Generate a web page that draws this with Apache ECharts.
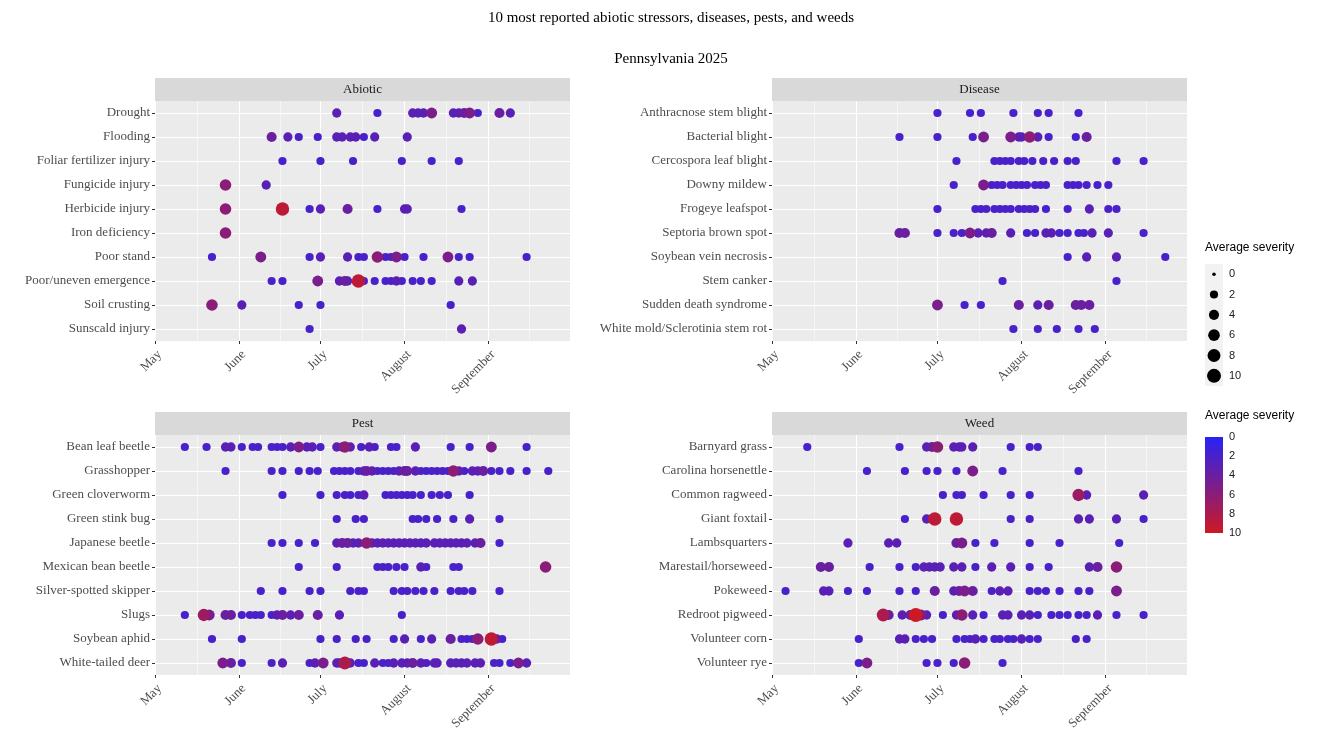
<!DOCTYPE html>
<html lang="en">
<head>
<meta charset="UTF-8">
<script src="https://cdn.jsdelivr.net/npm/echarts@6/dist/echarts.min.js"></script>
<style>
  html, body { margin: 0; padding: 0; background: #ffffff; }
  #main { width: 1317px; height: 735px; }
</style>
</head>
<body>
<div id="main"></div>
<script>
// x tick labels (month starts) and days are counted from May 1, 2025
const monthLabels = ['May', 'June', 'July', 'August', 'September'];
const sizeLegendValues = [0, 2, 4, 6, 8, 10];
const severityRange = [0, 10];

const abioticCats = ['Drought', 'Flooding', 'Foliar fertilizer injury', 'Fungicide injury', 'Herbicide injury',
  'Iron deficiency', 'Poor stand', 'Poor/uneven emergence', 'Soil crusting', 'Sunscald injury'];
const abioticDays = [
  [67, 82, 95, 97, 99, 102, 110, 112, 114, 116, 119, 127, 131],
  [43, 49, 53, 60, 67, 69, 72, 74, 77, 81, 93],
  [47, 61, 73, 91, 102, 112],
  [26, 41],
  [26, 47, 57, 61, 71, 82, 92, 93, 113],
  [26],
  [21, 39, 57, 61, 71, 75, 77, 82, 85, 87, 89, 92, 99, 108, 112, 116, 137],
  [43, 47, 60, 68, 70, 71, 75, 77, 81, 85, 87, 89, 91, 95, 98, 102, 112, 117],
  [21, 32, 53, 61, 109],
  [57, 113]
];
const abioticSeverity = [
  [3, 2, 3, 3, 3, 5, 3, 3, 4, 5, 2, 4, 3],
  [4, 3, 2, 2, 3, 3, 3, 3, 2, 3, 3],
  [2, 2, 2, 2, 2, 2],
  [6, 3],
  [6, 9, 2, 3, 4, 2, 3, 3, 2],
  [6],
  [2, 5, 2, 3, 3, 2, 2, 6, 2, 2, 5, 2, 2, 5, 2, 2, 2],
  [2, 2, 5, 3, 4, 3, 9, 2, 2, 2, 2, 3, 2, 2, 2, 2, 3, 3],
  [6, 3, 2, 2, 2],
  [2, 3]
];

const diseaseCats = ['Anthracnose stem blight', 'Bacterial blight', 'Cercospora leaf blight', 'Downy mildew',
  'Frogeye leafspot', 'Septoria brown spot', 'Soybean vein necrosis', 'Stem canker', 'Sudden death syndrome',
  'White mold/Sclerotinia stem rot'];
const diseaseDays = [
  [61, 73, 77, 89, 98, 102, 113],
  [47, 61, 74, 78, 88, 91, 92, 95, 98, 102, 112, 116],
  [68, 82, 84, 86, 88, 91, 93, 96, 100, 104, 109, 112, 127, 137],
  [67, 78, 81, 83, 85, 88, 90, 92, 94, 97, 99, 101, 109, 111, 113, 116, 120, 124],
  [61, 75, 77, 79, 82, 84, 86, 88, 91, 93, 95, 97, 101, 109, 117, 124, 127],
  [47, 49, 61, 67, 70, 73, 76, 79, 81, 88, 94, 97, 101, 103, 106, 109, 113, 115, 118, 124, 137],
  [109, 116, 127, 145],
  [85, 127],
  [61, 71, 77, 91, 98, 102, 112, 114, 117],
  [89, 98, 105, 113, 119]
];
const diseaseSeverity = [
  [2, 2, 2, 2, 2, 2, 2],
  [2, 2, 2, 5, 5, 3, 3, 6, 3, 2, 2, 4],
  [2, 2, 2, 2, 2, 2, 2, 2, 2, 2, 2, 2, 2, 2],
  [2, 5, 2, 2, 2, 2, 2, 2, 2, 2, 2, 2, 2, 2, 2, 2, 2, 2],
  [2, 2, 2, 2, 2, 2, 2, 2, 2, 2, 2, 2, 2, 2, 3, 2, 2],
  [4, 4, 2, 2, 2, 5, 3, 3, 4, 3, 2, 2, 3, 3, 2, 2, 2, 2, 3, 3, 2],
  [2, 3, 3, 2],
  [2, 2],
  [5, 2, 2, 4, 3, 4, 4, 4, 4],
  [2, 2, 2, 2, 2]
];

const pestCats = ['Bean leaf beetle', 'Grasshopper', 'Green cloverworm', 'Green stink bug', 'Japanese beetle',
  'Mexican bean beetle', 'Silver-spotted skipper', 'Slugs', 'Soybean aphid', 'White-tailed deer'];
const pestDays = [
  [11, 19, 26, 28, 32, 36, 38, 43, 45, 47, 50, 53, 56, 58, 61, 67, 69, 70, 72, 76, 79, 81, 87, 89, 96, 109, 116, 124, 137],
  [26, 43, 47, 53, 57, 60, 66, 68, 70, 72, 75, 77, 78, 80, 82, 84, 86, 88, 90, 92, 93, 96, 98, 100, 102, 104, 106, 108,
    110, 112, 114, 117, 119, 121, 124, 127, 131, 137, 145],
  [47, 61, 67, 70, 72, 75, 77, 85, 87, 89, 91, 93, 95, 98, 102, 105, 108, 116],
  [67, 74, 77, 95, 97, 100, 104, 110, 116, 127],
  [43, 47, 53, 59, 67, 69, 71, 73, 75, 78, 80, 82, 84, 86, 88, 90, 92, 94, 96, 98, 100, 103, 105, 107, 109, 111, 113,
    115, 118, 120, 127],
  [53, 67, 82, 84, 86, 89, 92, 98, 100, 110, 112, 144],
  [39, 47, 57, 61, 72, 75, 77, 88, 91, 93, 96, 99, 103, 109, 112, 114, 117, 127],
  [11, 18, 20, 26, 28, 32, 35, 37, 39, 43, 45, 47, 50, 53, 60, 68, 91],
  [21, 32, 61, 67, 74, 78, 88, 92, 98, 102, 109, 113, 115, 117, 119, 124, 126, 128],
  [25, 28, 32, 43, 47, 57, 59, 62, 67, 68, 70, 72, 75, 77, 81, 84, 86, 88, 91, 93, 95, 98, 100, 103, 104, 109, 111,
    113, 115, 118, 120, 125, 127, 131, 134, 137]
];
const pestSeverity = [
  [2, 2, 3, 3, 2, 2, 2, 2, 2, 2, 3, 5, 3, 3, 2, 3, 3, 6, 3, 2, 3, 2, 2, 2, 3, 2, 2, 5, 2],
  [2, 2, 2, 2, 2, 2, 2, 2, 2, 2, 2, 3, 4, 3, 2, 2, 2, 2, 3, 4, 4, 3, 2, 2, 2, 2, 2, 2, 6, 3, 2, 3, 3, 4, 2, 2, 2, 2, 2],
  [2, 2, 2, 2, 2, 2, 3, 2, 2, 2, 2, 2, 2, 2, 2, 2, 2, 2],
  [2, 2, 2, 2, 2, 2, 2, 2, 3, 2],
  [2, 2, 2, 2, 3, 4, 4, 3, 3, 6, 3, 3, 3, 3, 3, 3, 3, 3, 3, 3, 3, 3, 3, 3, 3, 3, 3, 3, 3, 4, 2],
  [2, 2, 2, 2, 2, 2, 2, 3, 2, 2, 2, 6],
  [2, 2, 2, 2, 2, 2, 2, 2, 2, 2, 2, 2, 2, 2, 2, 2, 2, 2],
  [2, 7, 5, 4, 4, 2, 2, 2, 2, 2, 3, 4, 3, 4, 4, 3, 2],
  [2, 2, 2, 2, 2, 2, 2, 3, 2, 3, 4, 2, 2, 2, 6, 9, 3, 2],
  [5, 4, 2, 2, 3, 2, 3, 5, 3, 3, 8, 3, 2, 2, 3, 2, 2, 3, 3, 3, 4, 3, 2, 3, 3, 3, 3, 3, 3, 3, 3, 2, 2, 2, 5, 3]
];

const weedCats = ['Barnyard grass', 'Carolina horsenettle', 'Common ragweed', 'Giant foxtail', 'Lambsquarters',
  'Marestail/horseweed', 'Pokeweed', 'Redroot pigweed', 'Volunteer corn', 'Volunteer rye'];
const weedDays = [
  [13, 47, 57, 59, 61, 67, 69, 70, 74, 88, 95, 98],
  [35, 49, 57, 61, 68, 74, 85, 113],
  [63, 68, 70, 78, 88, 95, 113, 116, 137],
  [49, 57, 60, 68, 88, 95, 113, 117, 127, 137],
  [28, 43, 46, 68, 70, 75, 82, 95, 106, 128],
  [18, 21, 36, 47, 53, 56, 58, 60, 62, 67, 70, 75, 81, 88, 95, 102, 117, 120, 127],
  [5, 19, 21, 28, 35, 47, 53, 60, 67, 69, 71, 74, 81, 84, 87, 95, 98, 101, 106, 113, 117, 127],
  [41, 43, 48, 51, 53, 55, 57, 63, 68, 70, 74, 78, 85, 87, 92, 95, 98, 103, 106, 109, 113, 116, 120, 127, 137],
  [32, 47, 49, 53, 56, 59, 68, 71, 73, 75, 78, 82, 84, 87, 89, 92, 95, 98, 112, 116],
  [32, 35, 57, 61, 67, 71, 85]
];
const weedSeverity = [
  [2, 2, 3, 4, 6, 3, 3, 3, 3, 2, 2, 2],
  [2, 2, 2, 2, 2, 5, 2, 2],
  [2, 2, 2, 2, 2, 2, 7, 3, 3],
  [2, 3, 9, 9, 2, 2, 3, 3, 3, 2],
  [3, 3, 3, 4, 5, 2, 2, 2, 2, 2],
  [4, 4, 2, 2, 2, 3, 3, 3, 3, 3, 3, 2, 3, 3, 2, 2, 3, 4, 6],
  [2, 3, 3, 2, 2, 2, 2, 4, 3, 4, 5, 4, 2, 3, 3, 2, 2, 2, 2, 2, 2, 5],
  [8, 4, 3, 4, 10, 5, 3, 2, 3, 6, 3, 2, 3, 3, 3, 3, 2, 2, 2, 2, 2, 2, 3, 2, 2],
  [2, 3, 3, 2, 2, 2, 2, 2, 2, 3, 2, 2, 2, 2, 2, 3, 2, 2, 2, 2],
  [2, 5, 2, 2, 2, 6, 2]
];

// ---- helpers ----
const serif = 'Liberation Serif';
const sans = 'Liberation Sans';
const lowCol = [40, 35, 245];
const highCol = [205, 25, 35];

function toDate(d) { return new Date(2025, 4, 1 + d); }
function sizeOf(v) { return 3.5 + 10.5 * Math.sqrt(v / 10); }
function colorOf(v) {
  const t = Math.max(0, Math.min(1, v / 10));
  const c = lowCol.map((lo, i) => Math.round(lo + (highCol[i] - lo) * t));
  return 'rgb(' + c.join(',') + ')';
}

const W = 415, H = 240, stripH = 23;
const panels = [
  { name: 'Abiotic', cats: abioticCats, days: abioticDays, sev: abioticSeverity, left: 155, top: 101 },
  { name: 'Disease', cats: diseaseCats, days: diseaseDays, sev: diseaseSeverity, left: 772, top: 101 },
  { name: 'Pest', cats: pestCats, days: pestDays, sev: pestSeverity, left: 155, top: 435 },
  { name: 'Weed', cats: weedCats, days: weedDays, sev: weedSeverity, left: 772, top: 435 }
];

const grids = [], xAxes = [], yAxes = [], series = [], graphics = [];

panels.forEach((p, i) => {
  grids.push({ left: p.left, top: p.top, width: W, height: H, show: true, backgroundColor: '#EBEBEB', borderWidth: 0 });
  xAxes.push({
    gridIndex: i, type: 'time', min: toDate(0), max: toDate(153), splitNumber: 5,
    axisLine: { show: false },
    axisTick: { show: true, length: 3, lineStyle: { color: '#333', width: 1 } },
    axisLabel: {
      rotate: 45, margin: 7, verticalAlign: 'top', color: '#4D4D4D', fontFamily: serif, fontSize: 13, showMaxLabel: false,
      formatter: v => monthLabels[new Date(v).getMonth() - 4] || ''
    },
    splitLine: { show: true, lineStyle: { color: '#fff', width: 1 } },
    minorTick: { show: false, splitNumber: 2 },
    minorSplitLine: { show: true, lineStyle: { color: '#fff', width: 0.5 } }
  });
  yAxes.push({
    gridIndex: i, type: 'category', data: p.cats, inverse: true,
    axisLine: { show: false },
    axisTick: { show: true, alignWithLabel: true, length: 3, lineStyle: { color: '#333' } },
    axisLabel: { color: '#4D4D4D', fontFamily: serif, fontSize: 13, margin: 5 },
    splitLine: { show: true, alignWithLabel: true, lineStyle: { color: '#fff', width: 1 } }
  });
  const data = [];
  p.days.forEach((row, ci) => row.forEach((d, k) => data.push([toDate(d), ci, p.sev[ci][k]])));
  data.sort((a, b) => a[2] - b[2]);
  series.push({
    type: 'scatter', xAxisIndex: i, yAxisIndex: i, data: data, silent: true,
    symbolSize: val => sizeOf(val[2]),
    itemStyle: { color: params => colorOf(params.value[2]), opacity: 1 }
  });
  // facet strip
  graphics.push({ type: 'rect', shape: { x: p.left, y: p.top - stripH, width: W, height: stripH }, style: { fill: '#D9D9D9' } });
  graphics.push({
    type: 'text', x: p.left + W / 2, y: p.top - stripH / 2,
    style: { text: p.name, font: '13px "' + serif + '"', fill: '#1A1A1A', textAlign: 'center', textVerticalAlign: 'middle' }
  });
});

// size legend
grids.push({ left: 1205, top: 264, width: 18, height: 122, show: true, backgroundColor: '#F2F2F2', borderWidth: 0 });
xAxes.push({ gridIndex: 4, type: 'value', min: -1, max: 1, show: false });
yAxes.push({
  gridIndex: 4, type: 'category', data: sizeLegendValues.map(String), inverse: true, position: 'right',
  axisLine: { show: false }, axisTick: { show: false }, splitLine: { show: false },
  axisLabel: { color: '#1A1A1A', fontFamily: sans, fontSize: 11, margin: 6 }
});
series.push({
  type: 'scatter', xAxisIndex: 4, yAxisIndex: 4, silent: true,
  data: sizeLegendValues.map((v, i) => [0, i, v]),
  symbolSize: val => sizeOf(val[2]),
  itemStyle: { color: '#000', opacity: 1 }
});

// colour bar legend
grids.push({ left: 1205, top: 437, width: 18, height: 96 });
xAxes.push({ gridIndex: 5, type: 'value', min: 0, max: 1, show: false });
yAxes.push({
  gridIndex: 5, type: 'value', min: severityRange[0], max: severityRange[1], interval: 2, inverse: true, position: 'right', z: 5,
  axisLine: { show: false }, splitLine: { show: false },
  axisTick: { show: true, inside: true, length: 4, lineStyle: { color: '#fff', width: 1 } },
  axisLabel: { color: '#1A1A1A', fontFamily: sans, fontSize: 11, margin: 6 }
});
series.push({
  type: 'custom', xAxisIndex: 5, yAxisIndex: 5, silent: true, z: 1,
  data: [[0, severityRange[0], severityRange[1]]],
  renderItem: (params, api) => {
    const a = api.coord([0, api.value(1)]);
    const b = api.coord([1, api.value(2)]);
    return {
      type: 'rect',
      shape: { x: a[0], y: a[1], width: b[0] - a[0], height: b[1] - a[1] },
      style: {
        fill: new echarts.graphic.LinearGradient(0, 0, 0, 1, [
          { offset: 0, color: colorOf(severityRange[0]) },
          { offset: 1, color: colorOf(severityRange[1]) }
        ])
      }
    };
  }
});

// titles
graphics.push({
  type: 'text', x: 671, y: 18,
  style: { text: '10 most reported abiotic stressors, diseases, pests, and weeds', font: '15px "' + serif + '"', fill: '#000', textAlign: 'center', textVerticalAlign: 'middle' }
});
graphics.push({
  type: 'text', x: 671, y: 59,
  style: { text: 'Pennsylvania 2025', font: '15px "' + serif + '"', fill: '#000', textAlign: 'center', textVerticalAlign: 'middle' }
});
graphics.push({
  type: 'text', x: 1205, y: 248,
  style: { text: 'Average severity', font: '12px "' + sans + '"', fill: '#000', textVerticalAlign: 'middle' }
});
graphics.push({
  type: 'text', x: 1205, y: 416,
  style: { text: 'Average severity', font: '12px "' + sans + '"', fill: '#000', textVerticalAlign: 'middle' }
});

const myChart = echarts.init(document.getElementById('main'));
myChart.setOption({
  animation: false,
  backgroundColor: '#fff',
  grid: grids,
  xAxis: xAxes,
  yAxis: yAxes,
  series: series,
  graphic: graphics
});
</script>
</body>
</html>
